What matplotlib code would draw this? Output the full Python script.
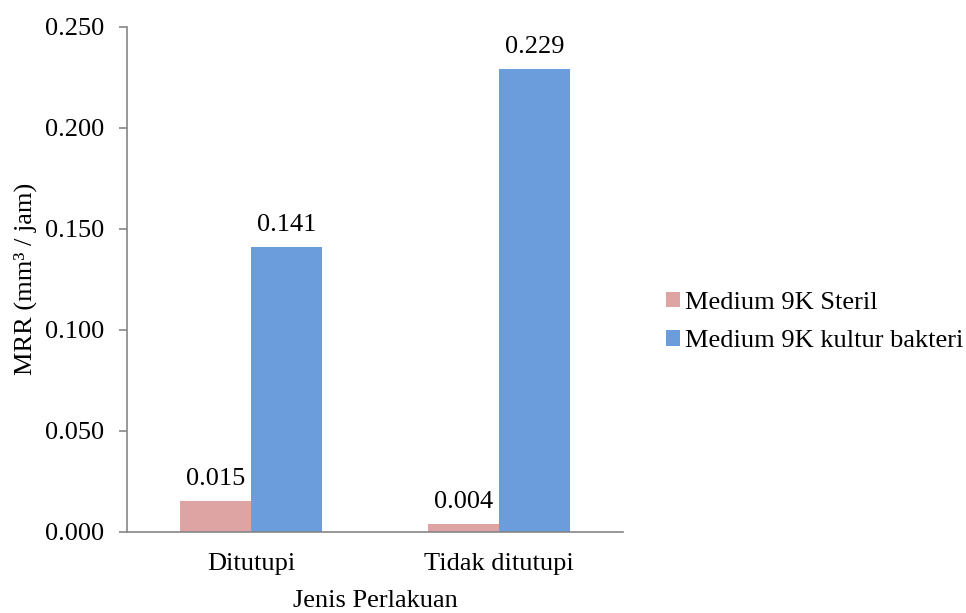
import matplotlib
matplotlib.use("Agg")
import matplotlib.pyplot as plt
from matplotlib.patches import Patch
import numpy as np

# Data
categories = ["Ditutupi", "Tidak ditutupi"]
series_names = ["Medium 9K Steril", "Medium 9K kultur bakteri"]
steril = [0.015, 0.004]
kultur = [0.141, 0.229]
y_ticks = [0.000, 0.050, 0.100, 0.150, 0.200, 0.250]

colors = ["#DEA3A3", "#6B9DDC"]
axis_color = "#868686"
font = "Liberation Serif"
fs = 19

plt.rcParams["font.family"] = [font, "DejaVu Serif"]

W, H = 966, 613
fig = plt.figure(figsize=(W / 100, H / 100), dpi=100)
fig.patch.set_facecolor("white")

# axes placed in pixel terms
left, right, top, bottom = 127, 623, 26.7, 531.7
ax = fig.add_axes([left / W, (H - bottom) / H, (right - left) / W, (bottom - top) / H])
ax.set_facecolor("none")

x = np.arange(len(categories))
bw = 0.285
series = [steril, kultur]
offsets = [-bw / 2, bw / 2]
for vals, off, col, name in zip(series, offsets, colors, series_names):
    bars = ax.bar(x + off, vals, width=bw, color=col, label=name, zorder=2)
    for b, v in zip(bars, vals):
        ax.annotate(f"{v:.3f}", (b.get_x() + b.get_width() / 2, v),
                    xytext=(0, 8), textcoords="offset points",
                    ha="center", va="bottom", fontsize=fs, color="black")

ax.set_xlim(-0.5, 1.5)
ax.set_ylim(0, 0.25)
ax.set_yticks(y_ticks)
ax.set_yticklabels([f"{t:.3f}" for t in y_ticks])
ax.set_xticks(x)
ax.set_xticklabels(categories)

for s in ["top", "right"]:
    ax.spines[s].set_visible(False)
for s in ["left", "bottom"]:
    ax.spines[s].set_color(axis_color)
    ax.spines[s].set_linewidth(1.2)

ax.tick_params(axis="y", length=5.5, width=1.2, color=axis_color, pad=11,
               labelsize=fs, labelcolor="black")
ax.tick_params(axis="x", length=0, pad=15, labelsize=fs, labelcolor="black")

ax.set_xlabel("Jenis Perlakuan", fontsize=fs, color="black")
ax.xaxis.set_label_coords(0.5, -0.137)
ax.xaxis.label.set_va("center")

ax.set_ylabel("MRR (mm³ / jam)", fontsize=fs, color="black")
ax.yaxis.set_label_coords(-0.206, 0.5)
ax.yaxis.label.set_va("center")
ax.yaxis.label.set_rotation_mode("anchor")

handles = [Patch(facecolor=c, edgecolor="none") for c in colors]
fig.legend(handles, series_names, loc="center left",
           bbox_to_anchor=(666 / W, (H - 322) / H), frameon=False,
           fontsize=fs, handlelength=0.53, handleheight=0.53,
           handletextpad=0.2, labelspacing=0.63, borderpad=0, borderaxespad=0)

fig.savefig("out.png", dpi=100, facecolor="white")
